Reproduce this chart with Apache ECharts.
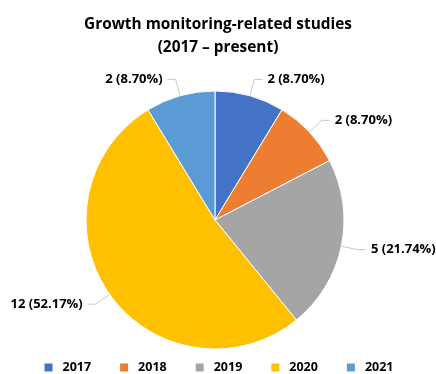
<!DOCTYPE html>
<html><head><meta charset="utf-8">
<script src="https://cdn.jsdelivr.net/npm/echarts@6/dist/echarts.min.js"></script>
<style>html,body{margin:0;padding:0;background:#fff}#c{width:436px;height:374px}</style>
</head><body><div id="c"></div>
<script>
const categories = ['2017', '2018', '2019', '2020', '2021'];
const values = [2, 2, 5, 12, 2];
const colors = ['#4472C4', '#ED7D31', '#A5A5A5', '#FFC000', '#5B9BD5'];
const titleText = 'Growth monitoring-related studies\n(2017 \u2013 present)';
const total = values.reduce((a, b) => a + b, 0);
const chart = echarts.init(document.getElementById('c'));
chart.setOption({
  animation: false,
  color: colors,
  title: {
    text: titleText, left: 'center', top: 8,
    textStyle: { fontFamily: 'Open Sans', fontWeight: 'bold', fontSize: 15.4, color: '#000', lineHeight: 23 }
  },
  legend: {
    top: 356, left: 'center', itemWidth: 10, itemHeight: 10, itemGap: 27, icon: 'rect',
    textStyle: { fontFamily: 'Open Sans', fontWeight: 'bold', fontSize: 12.5, color: '#000', padding: [0, 0, 0, 4] }
  },
  series: [{
    type: 'pie', center: [215, 220], radius: 129, startAngle: 90, clockwise: true,
    data: categories.map((c, i) => ({ name: c, value: values[i] })),
    itemStyle: { borderColor: '#fff', borderWidth: 1 },
    label: {
      show: true, position: 'outside', fontFamily: 'Open Sans', fontWeight: 'bold', fontSize: 13, color: '#000',
      overflow: 'none', edgeDistance: 0,
      formatter: p => p.value + ' (' + (p.value / total * 100).toFixed(2) + '%)'
    },
    labelLine: { show: true, length: 17, length2: 8, lineStyle: { color: '#c8c8c8', width: 1 } }
  }]
});
</script></body></html>
